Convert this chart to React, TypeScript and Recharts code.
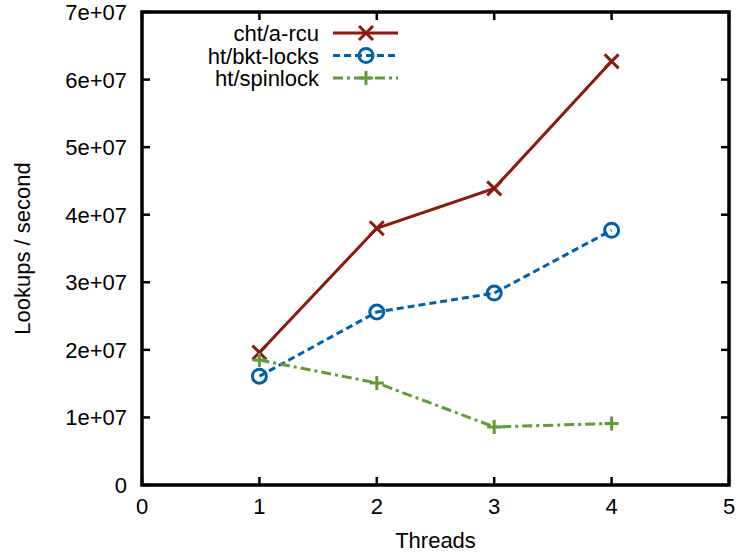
import { Label, Line, LineChart, ReferenceArea, XAxis, YAxis } from 'recharts';

const threads = [1, 2, 3, 4];
const rcu = [1.96e7, 3.8e7, 4.39e7, 6.27e7];
const bktLocks = [1.61e7, 2.56e7, 2.84e7, 3.77e7];
const spinlock = [1.85e7, 1.51e7, 0.86e7, 0.91e7];

const xTicks = [0, 1, 2, 3, 4, 5];
const yTicks = [0, 1e7, 2e7, 3e7, 4e7, 5e7, 6e7, 7e7];
const yTickLabels = ['0', '1e+07', '2e+07', '3e+07', '4e+07', '5e+07', '6e+07', '7e+07'];

const data = threads.map((t, i) => ({
  threads: t,
  rcu: rcu[i],
  bkt: bktLocks[i],
  spin: spinlock[i],
}));

const FONT = '"Liberation Sans", Arial, Helvetica, sans-serif';
const FS = 22;
const TICK = 8;
const RED = '#8b1a0e';
const BLUE = '#0060ad';
const GREEN = '#5e9c36';

// layout of the plot box
const W = 738;
const H = 556;
const M_TOP = 12;
const M_RIGHT = 9;
const PLOT_TOP = M_TOP;
const PLOT_RIGHT = W - M_RIGHT;

const crossPath = (x: number, y: number, s: number) =>
  `M${x - s},${y - s}L${x + s},${y + s}M${x - s},${y + s}L${x + s},${y - s}`;
const plusPath = (x: number, y: number, s: number) =>
  `M${x - s},${y}L${x + s},${y}M${x},${y - s}L${x},${y + s}`;

function CrossDot(props: any) {
  const { cx, cy } = props;
  if (cx == null || cy == null) return null;
  return <path d={crossPath(cx, cy, 7)} stroke={RED} strokeWidth={3} fill="none" />;
}

function CircleDot(props: any) {
  const { cx, cy } = props;
  if (cx == null || cy == null) return null;
  return <circle cx={cx} cy={cy} r={7} stroke={BLUE} strokeWidth={3} fill="none" />;
}

function PlusDot(props: any) {
  const { cx, cy } = props;
  if (cx == null || cy == null) return null;
  return <path d={plusPath(cx, cy, 7)} stroke={GREEN} strokeWidth={3} fill="none" />;
}

// inward tick at the bottom plus its mirror at the top of the box
function BottomTick(props: any) {
  const { x, y, payload } = props;
  return (
    <g>
      <line x1={x} y1={y} x2={x} y2={y - TICK} stroke="#000" strokeWidth={2.5} />
      <line x1={x} y1={PLOT_TOP} x2={x} y2={PLOT_TOP + TICK} stroke="#000" strokeWidth={2.5} />
      <text x={x} y={y + 29} textAnchor="middle" fontFamily={FONT} fontSize={FS} fill="#000">
        {payload.value}
      </text>
    </g>
  );
}

// inward tick on the left plus its mirror on the right side
function LeftTick(props: any) {
  const { x, y, payload } = props;
  const idx = yTicks.indexOf(payload.value);
  return (
    <g>
      <line x1={x} y1={y} x2={x + TICK} y2={y} stroke="#000" strokeWidth={2.5} />
      <line x1={PLOT_RIGHT} y1={y} x2={PLOT_RIGHT - TICK} y2={y} stroke="#000" strokeWidth={2.5} />
      <text x={x - 15} y={y + 8} textAnchor="end" fontFamily={FONT} fontSize={FS} fill="#000">
        {yTickLabels[idx]}
      </text>
    </g>
  );
}

const legendItems = [
  { name: 'cht/a-rcu', color: RED, dash: undefined, marker: 'cross' },
  { name: 'ht/bkt-locks', color: BLUE, dash: '7 4', marker: 'circle' },
  { name: 'ht/spinlock', color: GREEN, dash: '10 4 3 4', marker: 'plus' },
];

function ChartLegend() {
  return (
    <svg width={420} height={100} style={{ position: 'absolute', left: 0, top: 0 }}>
      {legendItems.map((item, i) => {
        const y = 33 + i * 22.5;
        return (
          <g key={item.name}>
            <text x={319} y={y + 8} textAnchor="end" fontFamily={FONT} fontSize={FS} fill="#000">
              {item.name}
            </text>
            <line x1={333} y1={y} x2={398} y2={y} stroke={item.color} strokeWidth={3} strokeDasharray={item.dash} />
            {item.marker === 'cross' && <path d={crossPath(366, y, 7)} stroke={item.color} strokeWidth={3} fill="none" />}
            {item.marker === 'circle' && <circle cx={366} cy={y} r={7} stroke={item.color} strokeWidth={3} fill="none" />}
            {item.marker === 'plus' && <path d={plusPath(366, y, 7)} stroke={item.color} strokeWidth={3} fill="none" />}
          </g>
        );
      })}
    </svg>
  );
}

export default function App() {
  return (
    <div style={{ position: 'absolute', left: 0, top: 0, width: W, height: H, background: '#fff' }}>
      <LineChart width={W} height={H} data={data} margin={{ top: M_TOP, right: M_RIGHT, bottom: 0, left: 0 }}>
        <XAxis
          dataKey="threads"
          type="number"
          domain={[0, 5]}
          ticks={xTicks}
          height={71}
          tickSize={0}
          tickMargin={0}
          tick={<BottomTick />}
          axisLine={false}
          tickLine={false}
        >
          <Label
            content={(p: any) => {
              const vb = p.viewBox;
              return (
                <text x={vb.x + vb.width / 2} y={548} textAnchor="middle" fontFamily={FONT} fontSize={FS} fill="#000">
                  Threads
                </text>
              );
            }}
          />
        </XAxis>
        <YAxis
          type="number"
          domain={[0, 7e7]}
          ticks={yTicks}
          width={142}
          tickSize={0}
          tickMargin={0}
          tick={<LeftTick />}
          axisLine={false}
          tickLine={false}
        >
          <Label
            content={(p: any) => {
              const vb = p.viewBox;
              const cy = vb.y + vb.height / 2;
              return (
                <text
                  x={22}
                  y={cy}
                  transform={`rotate(-90, 22, ${cy})`}
                  textAnchor="middle"
                  dominantBaseline="central"
                  fontFamily={FONT}
                  fontSize={FS}
                  fill="#000"
                >
                  Lookups / second
                </text>
              );
            }}
          />
        </YAxis>
        {/* the black box round the plot */}
        <ReferenceArea
          x1={0}
          x2={5}
          y1={0}
          y2={7e7}
          fill="none"
          fillOpacity={0}
          stroke="#000"
          strokeWidth={3.5}
          strokeOpacity={1}
          ifOverflow="visible"
        />
        <Line dataKey="rcu" name="cht/a-rcu" stroke={RED} strokeWidth={3} dot={<CrossDot />} activeDot={false} isAnimationActive={false} />
        <Line dataKey="bkt" name="ht/bkt-locks" stroke={BLUE} strokeWidth={3} strokeDasharray="7 4" dot={<CircleDot />} activeDot={false} isAnimationActive={false} />
        <Line dataKey="spin" name="ht/spinlock" stroke={GREEN} strokeWidth={3} strokeDasharray="10 4 3 4" dot={<PlusDot />} activeDot={false} isAnimationActive={false} />
      </LineChart>
      <ChartLegend />
    </div>
  );
}
